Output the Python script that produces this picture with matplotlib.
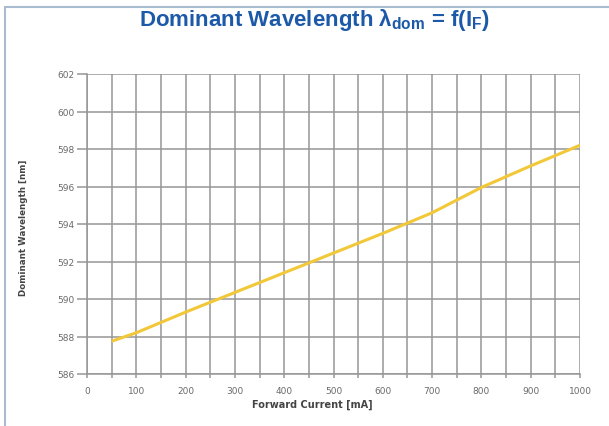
import numpy as np
import matplotlib
matplotlib.use('Agg')
from matplotlib import pyplot as plt
from matplotlib.patches import Rectangle

# values
current = [50, 100, 200, 300, 400, 500, 600, 700, 800, 900, 1000]
wavelength = [587.75, 588.2, 589.3, 590.35, 591.4, 592.45, 593.5, 594.6, 595.95, 597.1, 598.2]
x_ticks = [0, 100, 200, 300, 400, 500, 600, 700, 800, 900, 1000]
y_ticks = [586, 588, 590, 592, 594, 596, 598, 600, 602]

plt.rcParams['font.family'] = ['DejaVu Sans']
plt.rcParams['mathtext.fontset'] = 'custom'
plt.rcParams['mathtext.rm'] = 'Liberation Sans'
plt.rcParams['mathtext.bf'] = 'Liberation Sans:bold'

fig = plt.figure(figsize=(6.09, 4.27), dpi=100)
fig.patches.append(Rectangle((4.5/609, -0.05), 1.2, 1 - 7.5/427 + 0.05, transform=fig.transFigure,
                             fill=False, edgecolor='#a9bccf', linewidth=1.5))

fig.text(0.517, 0.953, r'Dominant Wavelength λ$_\mathbf{dom}$ = f(I$_\mathbf{F}$)',
         ha='center', va='center', fontsize=16, fontweight='bold', color='#1c59a8',
         family=['Liberation Sans', 'DejaVu Sans'])

ax = fig.add_axes([87/609, 52/427, 493/609, 300/427])
ax.plot(current, wavelength, color='#f2c838', linewidth=2.2, solid_capstyle='butt')

ax.set_xlim(0, 1000)
ax.set_ylim(586, 602)
ax.set_xticks(x_ticks)
ax.set_xticks(np.arange(0, 1001, 50), minor=True)
ax.set_yticks(y_ticks)
ax.grid(True, which='both', axis='x', color='#969696', linewidth=1.1)
ax.grid(True, which='major', axis='y', color='#969696', linewidth=1.1)
ax.tick_params(axis='y', length=7, width=1.1, color='#969696', labelsize=6.5, labelcolor='#6a6a6a', pad=2)
ax.tick_params(axis='x', which='both', length=3, width=1.1, color='#969696', labelsize=6.5,
               labelcolor='#6a6a6a', pad=6)
for s in ax.spines.values():
    s.set_color('#969696')
    s.set_linewidth(1.1)
ax.spines['top'].set_visible(False)
ax.spines['right'].set_visible(False)

ax.set_xlabel('Forward Current [mA]', fontsize=7, fontweight='bold', color='#444444')
ax.set_ylabel('Dominant Wavelength [nm]', fontsize=6.3, fontweight='bold', color='#444444')
ax.xaxis.set_label_coords(0.458, -0.083)
ax.yaxis.set_label_coords(-0.12, 0.49)

fig.savefig('out.png', dpi=100)
